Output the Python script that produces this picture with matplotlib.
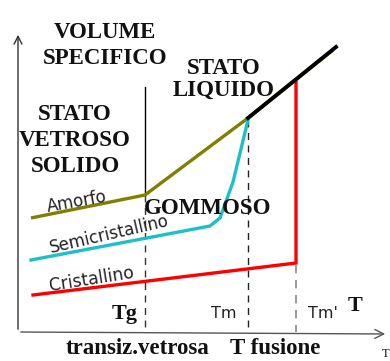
import matplotlib
matplotlib.use("Agg")
import matplotlib.pyplot as plt

# temperature markers (x) and curves (x, y) in chart units (y grows downward)
Tg, Tm, Tm2 = 145, 248, 296
amorfo_x = [31, 145, 248, 333]
amorfo_y = [218, 195, 118, 50]
semi_x = [31, 210, 220, 233, 248]
semi_y = [260, 226, 218, 182, 120]
crist_x = [33, 296, 296]
crist_y = [295, 263, 80]
liq_x = [248, 336]
liq_y = [118, 47]

fig = plt.figure(figsize=(3.9, 3.61), dpi=100)
ax = fig.add_axes([0, 0, 1, 1])
ax.set_xlim(0, 390)
ax.set_ylim(361, 0)
ax.axis("off")

# axes arrows
ax.annotate("", xy=(18, 32), xytext=(18, 332),
            arrowprops=dict(arrowstyle="->", lw=1.0, color="#333333", mutation_scale=14))
ax.annotate("", xy=(388, 334), xytext=(18, 332),
            arrowprops=dict(arrowstyle="->", lw=1.0, color="#555555", mutation_scale=16))

# vertical markers
ax.plot([Tg, Tg], [87, 195], color="black", lw=1.0)
ax.plot([Tg, Tg], [195, 332], color="#333333", lw=1.0, ls=(0, (5, 4)))
ax.plot([Tm, Tm], [120, 332], color="#222222", lw=1.0, ls=(0, (5, 4)))
ax.plot([Tm2, Tm2], [265, 332], color="#888888", lw=1.2, ls=(0, (5, 4)))

# curves
ax.plot(amorfo_x, amorfo_y, color="#7f7f00", lw=2.4, solid_capstyle="butt")
ax.plot(semi_x, semi_y, color="#1fbfc8", lw=2.4, solid_joinstyle="round")
ax.plot(crist_x, crist_y, color="#ff0000", lw=2.4, solid_joinstyle="miter")
ax.plot(liq_x, liq_y, color="black", lw=2.8)

serif = "Liberation Serif"
bold = dict(family=serif, weight="bold", color="#111111", ha="center", va="center")
ax.text(105, 33, "VOLUME", fontsize=16.5, **bold)
ax.text(105, 58, "SPECIFICO", fontsize=16.5, **bold)
ax.text(224, 68, "STATO", fontsize=16.5, **bold)
ax.text(224, 90, "LIQUIDO", fontsize=16.5, **bold)
ax.text(75, 115, "STATO", fontsize=16.5, **bold)
ax.text(75, 141, "VETROSO", fontsize=16.5, **bold)
ax.text(75, 167, "SOLIDO", fontsize=16.5, **bold)
ax.text(208, 208, "GOMMOSO", fontsize=16.5, **bold)
ax.text(125, 314, "Tg", fontsize=16, **bold)
ax.text(355, 306, "T", fontsize=16, **bold)
ax.text(138, 348, "transiz.vetrosa", fontsize=16.5, **bold)
ax.text(275, 348, "T fusione", fontsize=16.5, **bold)
ax.text(382, 360, "T", fontsize=9, family=serif, color="#111111", ha="left", va="bottom")

sans = dict(family="DejaVu Sans", color="#222222", ha="center", va="center", rotation_mode="anchor")
ax.text(77, 202, "Amorfo", fontsize=12, rotation=10, **sans)
ax.text(109, 234, "Semicristallino", fontsize=12, rotation=13, **sans)
ax.text(92, 279, "Cristallino", fontsize=12.3, rotation=9, **sans)
ax.text(224, 314, "Tm", fontsize=11.5, **sans)
ax.text(323, 314, "Tm'", fontsize=11.5, **sans)

fig.savefig("out.png", dpi=100)
